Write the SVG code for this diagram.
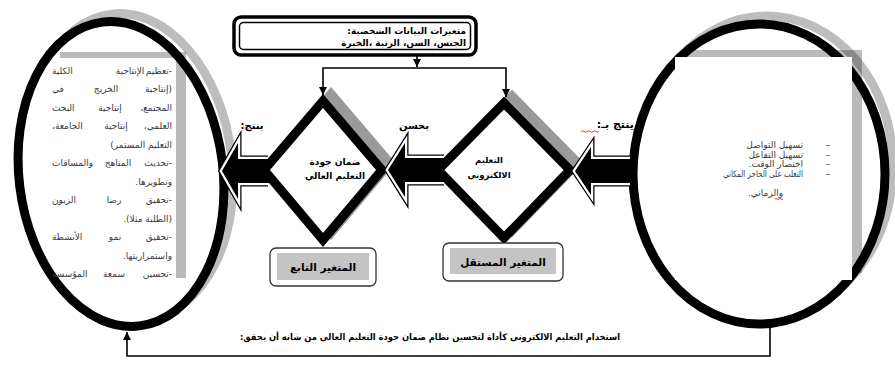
<svg xmlns="http://www.w3.org/2000/svg" width="895" height="366" viewBox="0 0 895 366">
<style>
text{font-family:"DejaVu Sans","Noto Sans",sans-serif;}
.b{font-weight:bold;fill:#000;}
.t{font-size:9px;fill:#3a3a3a;}
.ring{fill:#fff;stroke:#000;stroke-width:9;}
.eshadow{fill:none;stroke:#bdbdbd;stroke-width:9;}
.dia{fill:#fff;stroke:#000;stroke-width:9;stroke-linejoin:miter;stroke-miterlimit:10;}
.dshadow{fill:#9a9a9a;stroke:#9a9a9a;stroke-width:9;stroke-linejoin:miter;stroke-miterlimit:10;}
.conn{fill:none;stroke:#000;stroke-width:1.6;}
.ao1{fill:none;stroke:#000;stroke-width:7;stroke-linejoin:miter;}
.ao2{fill:none;stroke:#fff;stroke-width:4.5;stroke-linejoin:miter;}
.af{fill:#000;}
.bshadow{fill:#000;fill-opacity:0.27;}
.lout{fill:#fff;stroke:#333;stroke-width:1.3;}
.lin{fill:#c4c4c4;}
.sq{fill:none;stroke:#e00;stroke-width:0.8;}
</style>
<defs>
<marker id="ah" viewBox="0 0 10 10" refX="10" refY="5" markerWidth="8" markerHeight="8" markerUnits="userSpaceOnUse" orient="auto"><path d="M0,0 L10,5 L0,10 Z" fill="#000"/></marker>
</defs>

<g id="labels">
<text class="b" font-size="10" x="252" y="129" text-anchor="middle">&#x200F;ينتج:&#x200F;</text>
<text class="b" font-size="10" x="414" y="129" text-anchor="middle">&#x200F;يحسن&#x200F;</text>
<text class="b" font-size="11" x="634" y="128" text-anchor="end">&#x200F;ينتج بـ:&#x200F;</text>
<path class="sq" d="M581,131.5 q1.5,-1.5 3,0 t3,0 t3,0 t3,0 t3,0 t3,0"/>
</g>

<g id="outcomes">
<ellipse class="eshadow" cx="121" cy="174" rx="102" ry="153" transform="translate(9,-8) rotate(-7 121 174)"/>
<ellipse class="ring" cx="121" cy="174" rx="102" ry="153" transform="rotate(-7 121 174)"/>
<path class="bshadow" d="M60,52 H186 V278 H176 V58 H60 Z"/>
<g class="t">
<text x="172" y="73.5" text-anchor="end">&#x200F;-تعظيم&#x200F;</text>
<text x="130" y="73.5" text-anchor="middle">الإنتاجية</text>
<text x="52" y="73.5" text-anchor="start">الكلية</text>
<text x="172" y="92" text-anchor="end">&#x200F;(إنتاجية&#x200F;</text>
<text x="106" y="92" text-anchor="middle">الخريج</text>
<text x="52" y="92" text-anchor="start">في</text>
<text x="172" y="110.5" text-anchor="end">&#x200F;المجتمع،&#x200F;</text>
<text x="110" y="110.5" text-anchor="middle">إنتاجية</text>
<text x="52" y="110.5" text-anchor="start">البحث</text>
<text x="172" y="129" text-anchor="end">&#x200F;العلمي،&#x200F;</text>
<text x="116" y="129" text-anchor="middle">إنتاجية</text>
<text x="52" y="129" text-anchor="start">&#x200F;الجامعة،&#x200F;</text>
<text x="172" y="147.5" text-anchor="end">&#x200F;التعليم المستمر)&#x200F;</text>
<text x="172" y="166" text-anchor="end">&#x200F;-تحديث&#x200F;</text>
<text x="118" y="166" text-anchor="middle">المناهج</text>
<text x="52" y="166" text-anchor="start">والمساقات</text>
<text x="172" y="184.5" text-anchor="end">&#x200F;وتطويرها.&#x200F;</text>
<text x="172" y="203" text-anchor="end">&#x200F;-تحقيق&#x200F;</text>
<text x="114" y="203" text-anchor="middle">رضا</text>
<text x="52" y="203" text-anchor="start">الزبون</text>
<text x="172" y="221.5" text-anchor="end">&#x200F;(الطلبة مثلا).&#x200F;</text>
<text x="172" y="240" text-anchor="end">&#x200F;-تحقيق&#x200F;</text>
<text x="115" y="240" text-anchor="middle">نمو</text>
<text x="52" y="240" text-anchor="start">الأنشطة</text>
<text x="172" y="258.5" text-anchor="end">&#x200F;واستمراريتها.&#x200F;</text>
<text x="172" y="277" text-anchor="end">&#x200F;-تحسين&#x200F;</text>
<text x="114" y="277" text-anchor="middle">سمعة</text>
<text x="52" y="277" text-anchor="start">المؤسسة</text>
</g>
</g>

<g id="demographics">
<rect x="234" y="17" width="242" height="38" rx="7" fill="#fff" stroke="#000" stroke-width="3.5"/>
<rect x="239.5" y="22.5" width="231" height="27" rx="4" fill="none" stroke="#000" stroke-width="1.5"/>
<text class="b" font-size="9" x="466" y="34" text-anchor="end">&#x200F;متغيرات البيانات الشخصية:&#x200F;</text>
<text class="b" font-size="9" x="466" y="45.5" text-anchor="end">&#x200F;الجنس، السن، الرتبة ،الخبرة&#x200F;</text>
</g>

<g id="quality">
<polygon class="dshadow" points="323,101 382,170 323,240 264,170" transform="translate(8,-7)"/>
<polygon class="dia" points="323,101 382,170 323,240 264,170"/>
<text class="b" font-size="9" x="335" y="165" text-anchor="middle">&#x200F;ضمان جودة&#x200F;</text>
<text class="b" font-size="9" x="335" y="179" text-anchor="middle">&#x200F;التعليم العالي&#x200F;</text>
</g>

<g id="elearning">
<polygon class="dshadow" points="504,103 570,170 504,238 438,170" transform="translate(8,-7)"/>
<polygon class="dia" points="504,103 570,170 504,238 438,170"/>
<text class="b" font-size="8.5" x="489" y="163" text-anchor="middle">التعليم</text>
<text class="b" font-size="8.5" x="489" y="178" text-anchor="middle">الالكتروني</text>
</g>

<g id="dependent">
<rect class="lout" x="270" y="248" width="106" height="38" rx="6"/>
<rect class="lin" x="277" y="253" width="92" height="27"/>
<text class="b" font-size="10.5" x="323" y="271" text-anchor="middle">&#x200F;المتغير التابع&#x200F;</text>
</g>

<g id="independent">
<rect class="lout" x="443" y="243" width="120" height="38" rx="6"/>
<rect class="lin" x="450" y="248" width="106" height="26"/>
<text class="b" font-size="10.5" x="503" y="266" text-anchor="middle">&#x200F;المتغير المستقل&#x200F;</text>
</g>

<g id="benefits">
<ellipse class="eshadow" cx="759" cy="174" rx="126" ry="150" transform="translate(8,-8)"/>
<ellipse class="ring" cx="759" cy="174" rx="126" ry="150"/>
<rect x="675" y="57" width="177" height="223" fill="#fff"/>
<path class="bshadow" d="M685,50 H862 V273 H852 V57 H685 Z"/>
<g class="t" font-size="9.5">
<text x="828" y="148" text-anchor="middle">–</text>
<text x="828" y="157.5" text-anchor="middle">–</text>
<text x="828" y="167" text-anchor="middle">–</text>
<text x="828" y="176.5" text-anchor="middle">–</text>
<text x="803" y="148" text-anchor="end">&#x200F;تسهيل التواصل&#x200F;</text>
<text x="803" y="157.5" text-anchor="end">&#x200F;تسهيل التفاعل&#x200F;</text>
<text x="803" y="167" text-anchor="end">&#x200F;اختصار الوقت.&#x200F;</text>
<text x="803" y="176.5" text-anchor="end" textLength="80" lengthAdjust="spacingAndGlyphs">&#x200F;التغلب على الحاجز المكاني&#x200F;</text>
<text x="783" y="196" text-anchor="end">&#x200F;والزماني.&#x200F;</text>
</g>
<path class="sq" d="M775,199 q1,-1.2 2,0 t2,0 t2,0 t2,0"/>
</g>

<g id="conclusion">
<text class="b" font-size="9" x="430" y="340" text-anchor="middle" textLength="380" lengthAdjust="spacingAndGlyphs">&#x200F;استخدام التعليم الالكترونى كأداة لتحسين نظام ضمان جودة التعليم العالى من شانه أن يحقق:&#x200F;</text>
</g>

<g id="connectors">
<path class="conn" d="M417,55 V67" marker-end="url(#ah)"/>
<path class="conn" d="M417,68 H323 V95" marker-end="url(#ah)"/>
<path class="conn" d="M417,68 H506 V97" marker-end="url(#ah)"/>
<path class="conn" d="M770,327 V356 H127 V332" marker-end="url(#ah)"/>
<path class="ao1" d="M268,159 H238 V143 L222,171 L238,199 V183 H268"/>
<path class="ao2" d="M268,159 H238 V143 L222,171 L238,199 V183 H268"/>
<path class="af" d="M272,159 H238 V143 L222,171 L238,199 V183 H272 L266,171 Z"/>
<path class="ao1" d="M444,158 H405 V143 L388,170 L405,197 V182 H444"/>
<path class="ao2" d="M444,158 H405 V143 L388,170 L405,197 V182 H444"/>
<path class="af" d="M448,158 H405 V143 L388,170 L405,197 V182 H448 L440,170 Z"/>
<path class="ao1" d="M630,159 H591 V147 L575,171 L591,195 V183 H630"/>
<path class="ao2" d="M630,159 H591 V147 L575,171 L591,195 V183 H630"/>
<path class="af" d="M635,159 H591 V147 L575,171 L591,195 V183 H635 Z"/>
</g>
</svg>
